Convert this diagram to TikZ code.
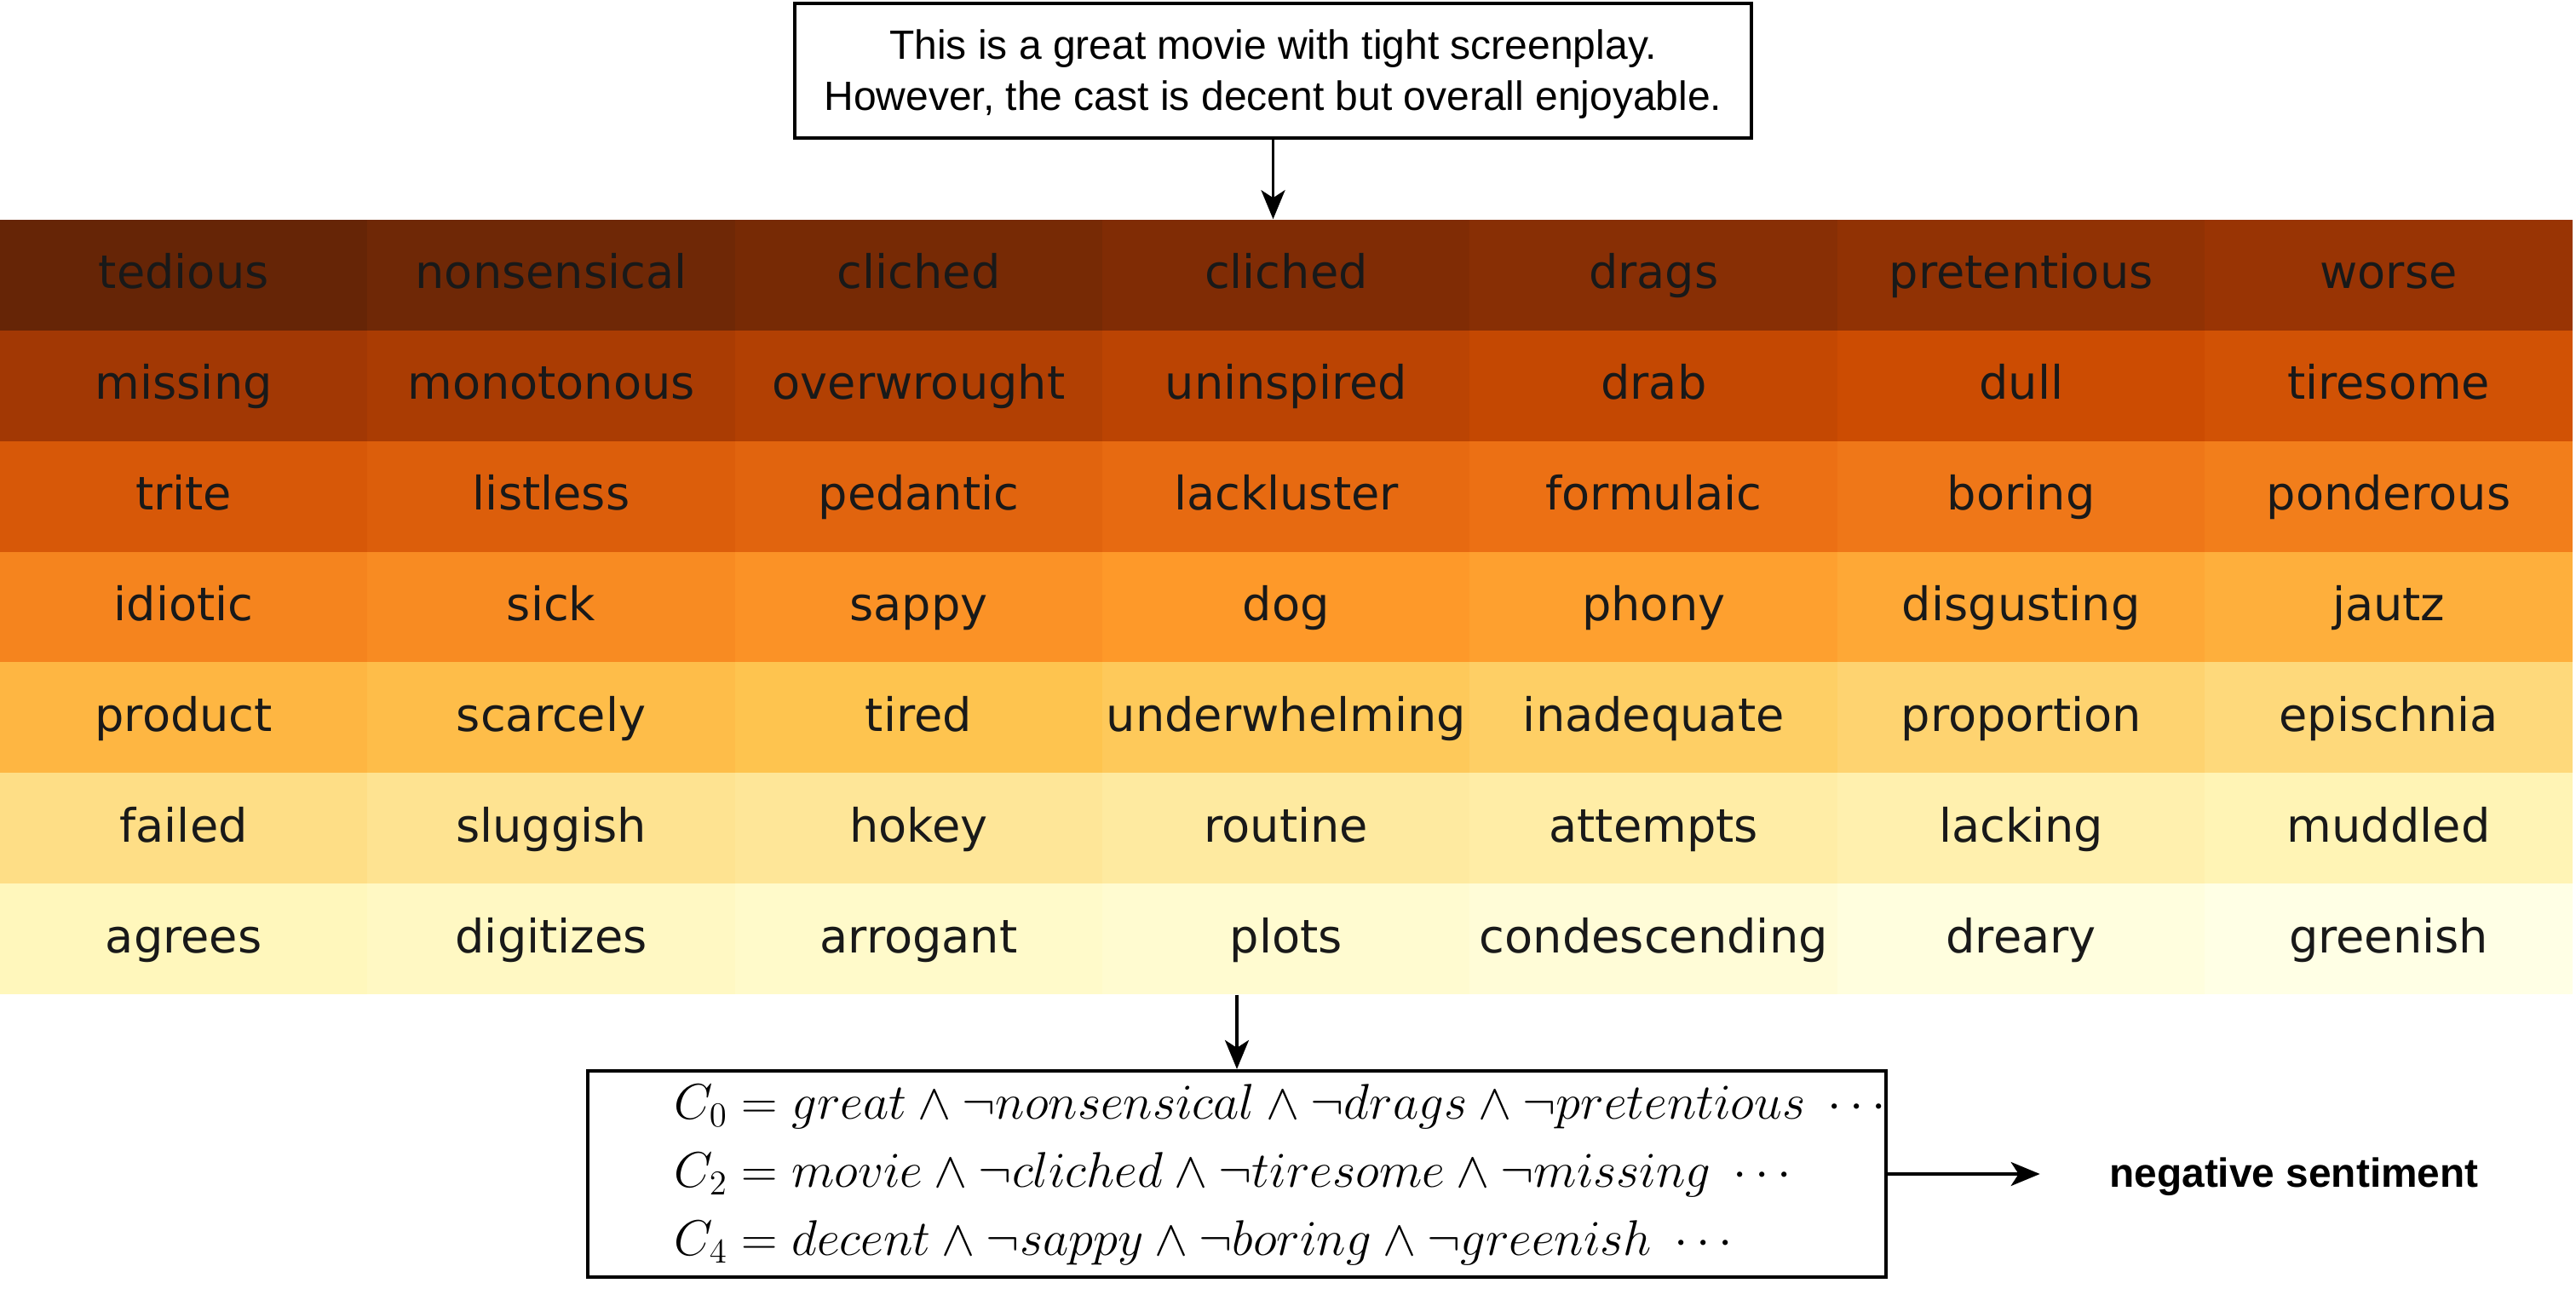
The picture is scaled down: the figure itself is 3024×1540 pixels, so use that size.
\documentclass[tikz,border=0pt]{standalone}
\usepackage{fontspec}
\setmainfont{Liberation Sans}
\newfontfamily\heatfont{DejaVu Sans}
\usetikzlibrary{arrows.meta}
\definecolor{yob0}{HTML}{662506}
\definecolor{yob1}{HTML}{993404}
\definecolor{yob2}{HTML}{CC4C02}
\definecolor{yob3}{HTML}{EC7014}
\definecolor{yob4}{HTML}{FE9929}
\definecolor{yob5}{HTML}{FEC44F}
\definecolor{yob6}{HTML}{FEE391}
\definecolor{yob7}{HTML}{FFF7BC}
\definecolor{yob8}{HTML}{FFFFE5}
\definecolor{yob9}{HTML}{FFFFE5}
\tikzset{
  cellbox/.style={rectangle, inner sep=0pt, minimum width=4.314cm, minimum height=1.2986cm,
    text height=0.5cm, text depth=0.18cm, font=\heatfont\fontsize{15.4}{18}\selectfont, text=black!90},
  framebox/.style={draw, line width=1.15pt, inner sep=0pt},
  conn/.style={line width=1pt, -{Stealth[length=0.34cm,width=0.28cm,inset=0.09cm]}},
  plaintext/.style={inner sep=0pt, font=\fontsize{13.6}{17}\selectfont}
}
\begin{document}
\begin{tikzpicture}[x=0.01cm, y=-0.01cm]
\useasboundingbox (0,0) rectangle (3024,1540);
% input sentence
\node[framebox, minimum width=11.23cm, minimum height=1.58cm] (sentence) at (1494.5,83) {};
\node[inner sep=0pt, align=center, font=\fontsize{13.65}{17.1}\selectfont] (sentencetext) at (1494.5,87)
  {This is a great movie with tight screenplay.\\However, the cast is decent but overall enjoyable.};
% heat map
\foreach \w [count=\k from 0] in {tedious, nonsensical, cliched, cliched, drags, pretentious, worse,
  missing, monotonous, overwrought, uninspired, drab, dull, tiresome,
  trite, listless, pedantic, lackluster, formulaic, boring, ponderous,
  idiotic, sick, sappy, dog, phony, disgusting, jautz,
  product, scarcely, tired, underwhelming, inadequate, proportion, epischnia,
  failed, sluggish, hokey, routine, attempts, lacking, muddled,
  agrees, digitizes, arrogant, plots, condescending, dreary, greenish} {
  \pgfmathtruncatemacro\row{\k/7}
  \pgfmathtruncatemacro\col{\k-7*\row}
  \pgfmathtruncatemacro\j{\k/6}
  \pgfmathtruncatemacro\jn{\j+1}
  \pgfmathtruncatemacro\pc{100-(\k-6*\j)*100/6}
  \colorlet{cellcol}{yob\j!\pc!yob\jn}
  \node[cellbox, fill=cellcol] (cell\row\col) at ({215.7+431.4*\col},{322.9+129.86*\row}) {\w};
}
% clauses
\node[framebox, minimum width=15.24cm, minimum height=2.42cm] (clausebox) at (1452,1378) {};
\node[anchor=west, inner sep=0pt, align=left, scale=0.967, transform shape,
  font=\fontsize{17.28}{23.58}\selectfont] (clauses) at (791,1379)
  {$C_0 = great \land \neg nonsensical \land \neg drags \land \neg pretentious\ \cdots$\\
   $C_2 = movie \land \neg cliched \land \neg tiresome \land \neg missing\ \cdots$\\
   $C_4 = decent \land \neg sappy \land \neg boring \land \neg greenish\ \cdots$};
\node[plaintext, font=\bfseries\fontsize{13.6}{17}\selectfont] (result) at (2693,1381) {negative sentiment};
% connectors
\draw[conn] (sentence.south) -- (sentence.south |- cell03.north);
\draw[conn] (clausebox.north |- cell63.south) -- (clausebox.north);
\draw[conn] (clausebox.east) -- ([xshift=-0.81cm]result.west |- clausebox.east);
\end{tikzpicture}
\end{document}
